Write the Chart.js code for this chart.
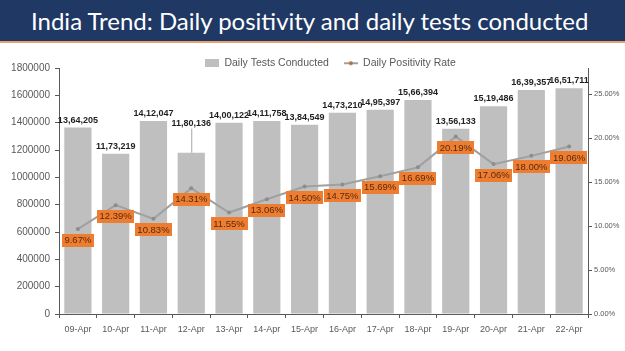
<!DOCTYPE html>
<html>
<head>
<meta charset="utf-8">
<script src="https://cdn.jsdelivr.net/npm/chart.js@4.4.1/dist/chart.umd.min.js"></script>
<style>
  html, body { margin: 0; padding: 0; background: #ffffff; width: 625px; height: 351px; overflow: hidden; }
  #title { height: 41px; background: #1F3864; border-bottom: 2px solid #E9A070; color: #ffffff;
           font-family: 'Lato', 'Open Sans', sans-serif; font-size: 24px; line-height: 41px;
           white-space: nowrap; padding-left: 31px; box-sizing: content-box; }
  #wrap { position: relative; width: 625px; height: 308px; }
</style>
</head>
<body>
<div id="title">India Trend: Daily positivity and daily tests conducted</div>
<div id="wrap"><canvas id="c" width="625" height="308"></canvas></div>
<script>
// ---- data ----
const categories = ['09-Apr','10-Apr','11-Apr','12-Apr','13-Apr','14-Apr','15-Apr','16-Apr','17-Apr','18-Apr','19-Apr','20-Apr','21-Apr','22-Apr'];
const dailyTests = [1364205, 1173219, 1412047, 1180136, 1400122, 1411758, 1384549, 1473210, 1495397, 1566394, 1356133, 1519486, 1639357, 1651711];
const positivityRate = [9.67, 12.39, 10.83, 14.31, 11.55, 13.06, 14.50, 14.75, 15.69, 16.69, 20.19, 17.06, 18.00, 19.06];
const seriesNames = ['Daily Tests Conducted', 'Daily Positivity Rate'];
const leftTicksMax = 1800000, leftStep = 200000;
const rightTicksMax = 28, rightStep = 5, rightLastTick = 25;

// ---- style ----
const barColor = '#BFBFBF';
const lineColor = '#A0A0A0';
const labelBoxColor = '#ED7D31';
const axisColor = '#595959';
const textColor = '#595959';
const barLabelLift = {3: 22}; // 12-Apr label moved up with a leader line
const legendShift = 18;

function indianFormat(n) {
  const s = String(Math.round(n));
  if (s.length <= 3) return s;
  const last3 = s.slice(-3);
  let rest = s.slice(0, -3);
  const parts = [];
  while (rest.length > 2) { parts.unshift(rest.slice(-2)); rest = rest.slice(0, -2); }
  if (rest.length) parts.unshift(rest);
  return parts.join(',') + ',' + last3;
}

function makeIcon(kind) {
  const cv = document.createElement('canvas');
  cv.width = 14; cv.height = 8;
  const g = cv.getContext('2d');
  if (kind === 'bar') {
    g.fillStyle = barColor; g.fillRect(0, 0, 14, 8);
  } else {
    g.strokeStyle = lineColor; g.lineWidth = 2;
    g.beginPath(); g.moveTo(0, 4); g.lineTo(14, 4); g.stroke();
    g.fillStyle = '#B0703A'; g.beginPath(); g.arc(7, 4, 2, 0, Math.PI * 2); g.fill();
  }
  return cv;
}

const legendTweak = {
  id: 'legendTweak',
  beforeInit(chart) {
    const orig = chart.legend.fit;
    chart.legend.fit = function () { orig.call(this); this.height = 25; };
  },
  afterLayout(chart) {
    chart.legend.left += legendShift;
    chart.legend.right += legendShift;
  }
};

const valueLabels = {
  id: 'valueLabels',
  afterDatasetsDraw(chart) {
    const ctx = chart.ctx;
    ctx.save();
    // bar labels
    const barMeta = chart.getDatasetMeta(0);
    ctx.font = "bold 9px 'Liberation Sans Narrow', 'Liberation Sans', sans-serif";
    ctx.fillStyle = '#1F1F1F';
    ctx.textAlign = 'center';
    ctx.textBaseline = 'bottom';
    barMeta.data.forEach((el, i) => {
      const lift = barLabelLift[i] || 0;
      const y = el.y - 3 - lift;
      if (lift) {
        ctx.strokeStyle = '#A6A6A6'; ctx.lineWidth = 1;
        ctx.beginPath(); ctx.moveTo(el.x + 0.5, y + 1); ctx.lineTo(el.x + 0.5, el.y); ctx.stroke();
      }
      ctx.fillText(indianFormat(dailyTests[i]), el.x, y);
    });
    // line labels
    const lineMeta = chart.getDatasetMeta(1);
    ctx.font = "9.5px 'Liberation Sans', sans-serif";
    ctx.textBaseline = 'middle';
    lineMeta.data.forEach((el, i) => {
      const txt = positivityRate[i].toFixed(2) + '%';
      const w = ctx.measureText(txt).width + 5;
      const h = 13;
      const cy = el.y + 11;
      ctx.fillStyle = labelBoxColor;
      ctx.fillRect(Math.round(el.x - w / 2), Math.round(cy - h / 2), Math.round(w), h);
      ctx.fillStyle = '#5A2A0A';
      ctx.fillText(txt, el.x, cy + 0.5);
    });
    ctx.restore();
  }
};

new Chart(document.getElementById('c'), {
  data: {
    labels: categories,
    datasets: [
      {
        type: 'bar', label: seriesNames[0], data: dailyTests, yAxisID: 'y',
        backgroundColor: barColor, borderWidth: 0,
        barPercentage: 0.72, categoryPercentage: 1.0, order: 2
      },
      {
        type: 'line', label: seriesNames[1], data: positivityRate, yAxisID: 'y2',
        borderColor: lineColor, borderWidth: 2, backgroundColor: '#8C8C8C',
        pointRadius: 2, pointBackgroundColor: '#8C8C8C', pointBorderWidth: 0,
        tension: 0, order: 1
      }
    ]
  },
  options: {
    responsive: false,
    animation: false,
    layout: { padding: { left: 0, right: 0, top: 0, bottom: 0 } },
    plugins: {
      tooltip: { enabled: false },
      legend: {
        display: true, position: 'top',
        labels: {
          usePointStyle: true, pointStyleWidth: 14, boxHeight: 8,
          padding: 15, color: textColor,
          font: { family: "'Liberation Sans', sans-serif", size: 10.5 },
          generateLabels(chart) {
            return seriesNames.map((n, i) => ({
              text: n, datasetIndex: i, fontColor: textColor,
              pointStyle: makeIcon(i === 0 ? 'bar' : 'line'),
              fillStyle: i === 0 ? barColor : lineColor, strokeStyle: 'transparent', lineWidth: 0, hidden: false
            }));
          }
        }
      }
    },
    scales: {
      x: {
        offset: true,
        grid: { display: true, offset: true, drawOnChartArea: false, tickLength: 4, color: axisColor },
        border: { display: true, color: axisColor, width: 1 },
        ticks: { color: textColor, font: { family: "'Liberation Sans', sans-serif", size: 9 }, padding: 6, maxRotation: 0, autoSkip: false },
        afterFit(s) { s.height = 37; }
      },
      y: {
        position: 'left', min: 0, max: leftTicksMax,
        grid: { display: true, drawOnChartArea: false, tickLength: 4, color: axisColor },
        border: { display: true, color: axisColor, width: 1 },
        ticks: { stepSize: leftStep, color: textColor, font: { family: "'Liberation Sans', sans-serif", size: 10 }, padding: 5,
                 callback: v => String(v) },
        afterFit(s) { s.width = 59; }
      },
      y2: {
        position: 'right', min: 0, max: rightTicksMax,
        grid: { display: true, drawOnChartArea: false, tickLength: 4, color: axisColor },
        border: { display: true, color: axisColor, width: 1 },
        ticks: { stepSize: rightStep, color: textColor, font: { family: "'Liberation Sans', sans-serif", size: 7.5 }, padding: 2,
                 callback: v => v.toFixed(2) + '%' },
        afterBuildTicks(s) { s.ticks = s.ticks.filter(t => t.value <= rightLastTick); },
        afterFit(s) { s.width = 37; }
      }
    }
  },
  plugins: [legendTweak, valueLabels]
});
</script>
</body>
</html>
